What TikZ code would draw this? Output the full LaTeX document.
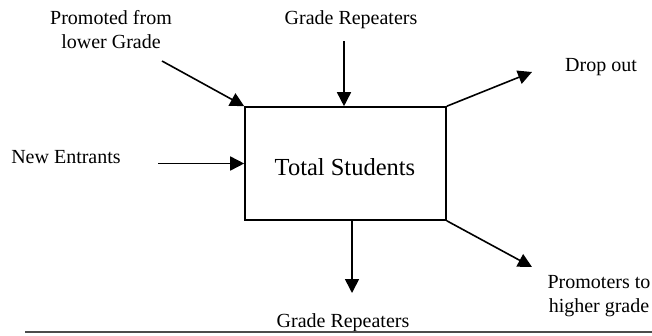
\documentclass[tikz,border=0pt]{standalone}
\usepackage{fontspec}
\setmainfont{Liberation Serif}
\usetikzlibrary{arrows.meta}
\begin{document}
\begin{tikzpicture}[x=1pt,y=-1pt,
  lbl/.style={font=\fontsize{20}{24}\selectfont, inner sep=0pt, anchor=base, align=center},
  flow/.style={line width=1.6pt, -{Triangle[length=14pt,width=14pt]}},
  boxstyle/.style={draw, line width=1.6pt, minimum width=201pt, minimum height=113pt, inner sep=0pt}]
\useasboundingbox (0,0) rectangle (652,335);
\node[boxstyle] (box) at (345.5,163.5) {};
\node[font=\fontsize{24.5}{29}\selectfont, inner sep=0pt, anchor=base] (total) at (345,175) {Total Students};
\node[lbl] (prom) at (111,48) {Promoted from\\lower Grade};
\node[lbl] (grtop) at (351,24) {Grade Repeaters};
\node[lbl] (newe) at (66,163) {New Entrants};
\node[lbl] (drop) at (601,71) {Drop out};
\node[lbl] (promh) at (599,312) {Promoters to\\higher grade};
\node[lbl] (grbot) at (343,327) {Grade Repeaters};
\coordinate (promS) at (162,61);
\coordinate (grtopS) at (344,41);
\coordinate (neweS) at (158,163.5);
\coordinate (dropE) at (532,72);
\coordinate (promhE) at (532,267);
\coordinate (grbotE) at (352,293);
\draw[flow] (promS) -- (box.north west);
\draw[flow] (grtopS) -- (grtopS |- box.north);
\draw[flow] (neweS) -- (box.west);
\draw[flow] (box.north east) -- (dropE);
\draw[flow] (box.south east) -- (promhE);
\draw[flow] (grbotE |- box.south) -- (grbotE);
\coordinate (ruleL) at (25,332);
\coordinate (ruleR) at (652,332);
\draw[line width=1.5pt, black!70] (ruleL) -- (ruleR);
\end{tikzpicture}
\end{document}
